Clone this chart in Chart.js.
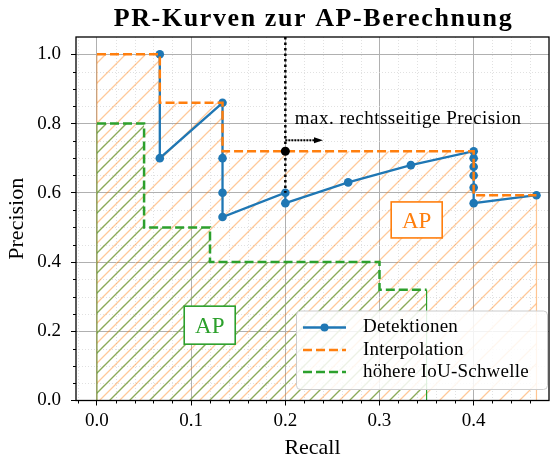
<!DOCTYPE html>
<html>
<head>
<meta charset="utf-8">
<script src="https://cdn.jsdelivr.net/npm/chart.js@4/dist/chart.umd.min.js"></script>
<style>
    html, body { margin: 0; padding: 0; background: #fff; }
</style>
</head>
<body>
<canvas id="prChart" width="555" height="459"></canvas>
<script>
"use strict";

var FONT = "'Liberation Serif', 'Times New Roman', serif";

// Detektionen (blue)
var detRecall    = [0.0667, 0.0667, 0.1333, 0.1333, 0.1333, 0.1333, 0.2, 0.2, 0.2667, 0.3333, 0.4, 0.4, 0.4, 0.4, 0.4, 0.4, 0.4667];
var detPrecision = [1.0, 0.70, 0.86, 0.70, 0.60, 0.53, 0.60, 0.57, 0.63, 0.68, 0.72, 0.70, 0.675, 0.65, 0.615, 0.57, 0.593];

// Interpolation (orange, dashed)
var interpRecall    = [0.0, 0.0667, 0.0667, 0.1333, 0.1333, 0.4, 0.4, 0.4667];
var interpPrecision = [1.0, 1.0, 0.86, 0.86, 0.72, 0.72, 0.593, 0.593];

// hoehere IoU-Schwelle (green, dashed)
var iouRecall    = [0.0, 0.05, 0.05, 0.12, 0.12, 0.3, 0.3, 0.35];
var iouPrecision = [0.8, 0.8, 0.5, 0.5, 0.4, 0.4, 0.32, 0.32];

// max. rechtsseitige Precision marker
var markRecall    = [0.2, 0.2];
var markPrecision = [1.05, 0.6];
var maxRecall     = [0.2];
var maxPrecision  = [0.72];
var arrowRecall   = [0.2, 0.24];
var arrowPrecision = [0.752, 0.752];

var xTicks = [0.0, 0.1, 0.2, 0.3, 0.4];
var yTicks = [0.0, 0.2, 0.4, 0.6, 0.8, 1.0];
var X_MIN = -0.0223, X_MAX = 0.48;
var Y_MIN = 0, Y_MAX = 1.05;

var BLUE = '#1f77b4', ORANGE = '#ff7f0e', GREEN = '#2ca02c';

function pts(xs, ys) {
    return xs.map(function (x, i) { return {x: x, y: ys[i]}; });
}

function hatch(color, size, width, shift) {
    var c = document.createElement('canvas');
    c.width = size; c.height = size;
    var g = c.getContext('2d');
    g.strokeStyle = color;
    g.lineWidth = width;
    g.beginPath();
    for (var k = -1; k <= 2; k++) {
        var s = k * size + shift;
        g.moveTo(s + size, -size);
        g.lineTo(s - 2 * size, 2 * size);
    }
    g.stroke();
    return g.createPattern(c, 'repeat');
}

// edges of the hatched areas: only the outer vertical sides are visible
function sideEdge(first, last) {
    return function (ctx) {
        var n = ctx.chart.data.datasets[ctx.datasetIndex].data.length;
        if (ctx.p0DataIndex === 0) return first;
        if (ctx.p1DataIndex === n - 1) return last;
        return 'rgba(0,0,0,0)';
    };
}

var interpFill = pts([interpRecall[0]].concat(interpRecall, [interpRecall[interpRecall.length - 1]]),
                     [0].concat(interpPrecision, [0]));
var iouFill = pts([iouRecall[0]].concat(iouRecall, [iouRecall[iouRecall.length - 1]]),
                  [0].concat(iouPrecision, [0]));

var overlay = {
    id: 'overlay',
    beforeDatasetsDraw: function (chart) {
        var ctx = chart.ctx, a = chart.chartArea, xs = chart.scales.x, ys = chart.scales.y;
        ctx.save();
        ctx.strokeStyle = '#d9d9d9';
        ctx.lineWidth = 0.8;
        ctx.setLineDash([1, 2]);
        ctx.beginPath();
        for (var i = -1; i <= 24; i++) {
            if (i % 5 === 0) continue;
            var px = Math.round(xs.getPixelForValue(i * 0.02)) + 0.5;
            if (px <= a.left || px >= a.right) continue;
            ctx.moveTo(px, a.top); ctx.lineTo(px, a.bottom);
        }
        for (var j = 1; j <= 20; j++) {
            if (j % 4 === 0) continue;
            var py = Math.round(ys.getPixelForValue(j * 0.05)) + 0.5;
            ctx.moveTo(a.left, py); ctx.lineTo(a.right, py);
        }
        ctx.stroke();
        ctx.restore();
    },
    afterDatasetsDraw: function (chart) {
        var ctx = chart.ctx, a = chart.chartArea, xs = chart.scales.x, ys = chart.scales.y;
        ctx.save();

        // arrow to the right
        var ax0 = xs.getPixelForValue(arrowRecall[0]), ax1 = xs.getPixelForValue(arrowRecall[1]);
        var ay = ys.getPixelForValue(arrowPrecision[0]);
        ctx.strokeStyle = '#000';
        ctx.lineWidth = 2;
        ctx.setLineDash([2, 1]);
        ctx.beginPath();
        ctx.moveTo(ax0, ay); ctx.lineTo(ax1 - 6, ay);
        ctx.stroke();
        ctx.setLineDash([]);
        ctx.fillStyle = '#000';
        ctx.beginPath();
        ctx.moveTo(ax1, ay); ctx.lineTo(ax1 - 9, ay - 3); ctx.lineTo(ax1 - 9, ay + 3);
        ctx.closePath();
        ctx.fill();

        // annotation text
        ctx.font = '19px ' + FONT;
        ctx.letterSpacing = '0.5px';
        ctx.textAlign = 'left';
        ctx.textBaseline = 'alphabetic';
        ctx.fillText('max. rechtsseitige Precision', xs.getPixelForValue(0.21), ys.getPixelForValue(0.80));
        ctx.letterSpacing = '0px';

        // AP boxes
        function apBox(x, y, w, h, color) {
            var cx = xs.getPixelForValue(x), cy = ys.getPixelForValue(y);
            ctx.fillStyle = '#fff';
            ctx.fillRect(cx - w / 2, cy - h / 2, w, h);
            ctx.strokeStyle = color;
            ctx.lineWidth = 1.6;
            ctx.strokeRect(cx - w / 2, cy - h / 2, w, h);
            ctx.fillStyle = color;
            ctx.font = '23px ' + FONT;
            ctx.textAlign = 'center';
            ctx.textBaseline = 'alphabetic';
            ctx.fillText('AP', cx, cy + 8);
        }
        apBox(0.3395, 0.5216, 51, 36, ORANGE);
        apBox(0.1197, 0.2176, 51, 38, GREEN);

        // legend
        var lx = a.right - 253, ly = a.bottom - 90, lw = 251, lh = 78.5;
        ctx.fillStyle = 'rgba(255,255,255,0.85)';
        ctx.strokeStyle = '#cccccc';
        ctx.lineWidth = 1;
        ctx.beginPath();
        ctx.roundRect(lx + 0.5, ly + 0.5, lw, lh, 4);
        ctx.fill();
        ctx.stroke();
        var entries = [
            {label: 'Detektionen', color: BLUE, dash: [], marker: true},
            {label: 'Interpolation', color: ORANGE, dash: [9, 4], marker: false},
            {label: 'höhere IoU-Schwelle', color: GREEN, dash: [9, 4], marker: false}
        ];
        var rows = [17, 39.5, 61.5];
        entries.forEach(function (e, i) {
            var y = ly + rows[i];
            ctx.strokeStyle = e.color;
            ctx.lineWidth = 2.4;
            ctx.setLineDash(e.dash);
            ctx.beginPath();
            ctx.moveTo(lx + 7, y); ctx.lineTo(lx + 50, y);
            ctx.stroke();
            ctx.setLineDash([]);
            if (e.marker) {
                ctx.fillStyle = e.color;
                ctx.beginPath();
                ctx.arc(lx + 28.5, y, 4, 0, Math.PI * 2);
                ctx.fill();
            }
            ctx.fillStyle = '#000';
            ctx.font = '19px ' + FONT;
            ctx.letterSpacing = '0.2px';
            ctx.textAlign = 'left';
            ctx.textBaseline = 'middle';
            ctx.fillText(e.label, lx + 67, y);
            ctx.letterSpacing = '0px';
        });
        ctx.restore();
    },
    afterDraw: function (chart) {
        var ctx = chart.ctx, a = chart.chartArea, xs = chart.scales.x, ys = chart.scales.y;
        ctx.save();
        // minor ticks
        ctx.strokeStyle = '#000';
        ctx.lineWidth = 1;
        ctx.beginPath();
        for (var i = -1; i <= 24; i++) {
            if (i % 5 === 0) continue;
            var px = Math.round(xs.getPixelForValue(i * 0.02)) + 0.5;
            if (px <= a.left || px >= a.right) continue;
            ctx.moveTo(px, a.bottom); ctx.lineTo(px, a.bottom + 3);
        }
        for (var j = 1; j <= 20; j++) {
            if (j % 4 === 0) continue;
            var py = Math.round(ys.getPixelForValue(j * 0.05)) + 0.5;
            ctx.moveTo(a.left, py); ctx.lineTo(a.left - 3, py);
        }
        ctx.stroke();
        // frame
        ctx.lineWidth = 1.3;
        ctx.strokeRect(a.left, a.top, a.right - a.left, a.bottom - a.top);
        // title
        ctx.fillStyle = '#000';
        ctx.font = 'bold 26px ' + FONT;
        ctx.letterSpacing = '1.6px';
        ctx.textAlign = 'center';
        ctx.textBaseline = 'alphabetic';
        ctx.fillText('PR-Kurven zur AP-Berechnung', (a.left + a.right) / 2 + 1, 26);
        ctx.letterSpacing = '0px';
        ctx.restore();
    }
};

var myCanvas = document.getElementById('prChart').getContext('2d');

var prChart = new Chart(myCanvas, {
    type: 'line',
    data: {
        datasets: [{
            label: 'AP Interpolation',
            data: interpFill,
            fill: 'origin',
            backgroundColor: hatch('rgba(255,127,14,0.42)', 20, 1.3, 0),
            borderWidth: 1.2,
            segment: { borderColor: sideEdge('rgba(255,127,14,0.45)', 'rgba(255,127,14,0.45)') },
            pointRadius: 0,
            order: 10
        }, {
            label: 'AP IoU',
            data: iouFill,
            fill: 'origin',
            backgroundColor: hatch('rgb(139,170,88)', 20, 1.4, 10),
            borderWidth: 1.2,
            segment: { borderColor: sideEdge('rgba(44,160,44,0.5)', GREEN) },
            pointRadius: 0,
            order: 9
        }, {
            label: 'Detektionen',
            data: pts(detRecall, detPrecision),
            borderColor: BLUE,
            backgroundColor: BLUE,
            borderWidth: 2.3,
            pointRadius: 4.3,
            pointBorderWidth: 0,
            fill: false,
            order: 5
        }, {
            label: 'Interpolation',
            data: pts(interpRecall, interpPrecision),
            borderColor: ORANGE,
            borderWidth: 2.5,
            borderDash: [9, 4],
            pointRadius: 0,
            fill: false,
            order: 4
        }, {
            label: 'höhere IoU-Schwelle',
            data: pts(iouRecall, iouPrecision),
            borderColor: GREEN,
            borderWidth: 2.5,
            borderDash: [9, 4],
            pointRadius: 0,
            fill: false,
            order: 3
        }, {
            label: 'Markierung',
            data: pts(markRecall, markPrecision),
            borderColor: '#000',
            borderWidth: 2.5,
            borderDash: [2.5, 3],
            pointRadius: 0,
            fill: false,
            order: 2
        }, {
            label: 'max. rechtsseitig',
            data: pts(maxRecall, maxPrecision),
            borderColor: '#000',
            backgroundColor: '#000',
            pointRadius: 4.5,
            pointBorderWidth: 0,
            showLine: false,
            order: 1
        }]
    },
    options: {
        responsive: false,
        animation: false,
        events: [],
        layout: {
            padding: { top: 37, right: 6, left: 0, bottom: 0 }
        },
        scales: {
            x: {
                type: 'linear',
                min: X_MIN,
                max: X_MAX,
                afterBuildTicks: function (s) { s.ticks = xTicks.map(function (v) { return {value: v}; }); },
                afterFit: function (s) { s.height = 58.5; },
                ticks: {
                    callback: function (v) { return v.toFixed(1); },
                    color: '#000',
                    font: { family: FONT, size: 19 },
                    padding: 4,
                    maxRotation: 0,
                    autoSkip: false
                },
                grid: {
                    color: '#b0b0b0',
                    lineWidth: 1,
                    tickLength: 5,
                    tickColor: '#000',
                    tickWidth: 1
                },
                border: { display: false },
                title: {
                    display: true,
                    text: 'Recall',
                    color: '#000',
                    font: { family: FONT, size: 22, lineHeight: 1 },
                    padding: { top: 0, bottom: 0 }
                }
            },
            y: {
                type: 'linear',
                min: Y_MIN,
                max: Y_MAX,
                afterBuildTicks: function (s) { s.ticks = yTicks.map(function (v) { return {value: v}; }); },
                afterFit: function (s) { s.width = 76; },
                ticks: {
                    callback: function (v) { return v.toFixed(1); },
                    color: '#000',
                    font: { family: FONT, size: 19 },
                    padding: 10,
                    autoSkip: false
                },
                grid: {
                    color: '#b0b0b0',
                    lineWidth: 1,
                    tickLength: 5,
                    tickColor: '#000',
                    tickWidth: 1
                },
                border: { display: false },
                title: {
                    display: true,
                    text: 'Precision',
                    color: '#000',
                    font: { family: FONT, size: 22, lineHeight: 1 },
                    padding: { top: 6, bottom: 0 }
                }
            }
        },
        plugins: {
            legend: { display: false },
            tooltip: { enabled: false },
            title: { display: false }
        }
    },
    plugins: [overlay]
});
</script>
</body>
</html>
